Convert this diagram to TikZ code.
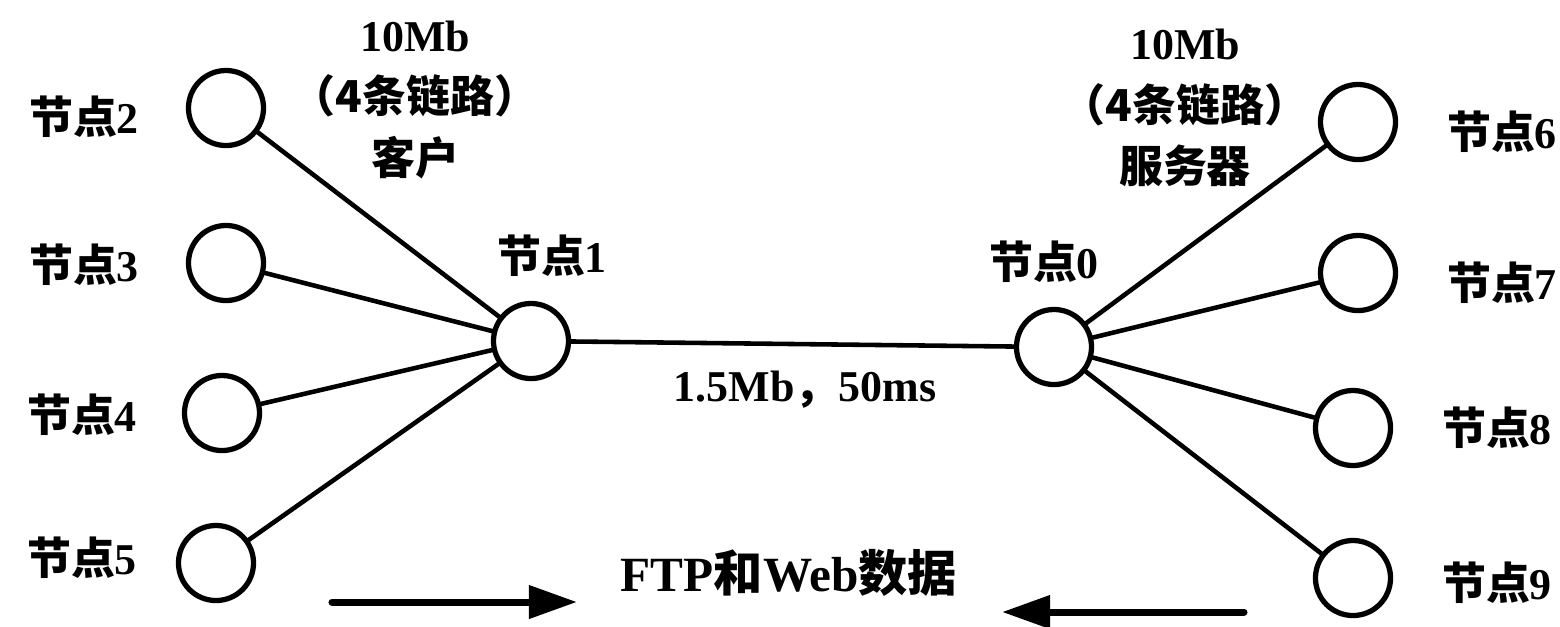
\documentclass[tikz,border=0pt]{standalone}
\usepackage{fontspec}
\setmainfont{Liberation Serif}
\newfontfamily\cjk{Noto Sans CJK SC}
\usetikzlibrary{arrows.meta}

\begin{document}
\begin{tikzpicture}[
    x={(0.01cm,0cm)},
    y={(0cm,-0.01cm)},
    line join=round,
    line cap=round,
    every node/.style={font=\bfseries\fontsize{12.5}{17.5}\selectfont, inner sep=0pt},
    nodo/.style={circle, draw, line width=1.5pt, minimum size=0.75cm},
    enlace/.style={line width=1.3pt},
    flujo/.style={-{Triangle[length=0.48cm,width=0.32cm]}, line width=2pt},
    grande/.style={font=\bfseries\fontsize{14}{17}\selectfont}
]

\useasboundingbox (0,0) rectangle (1560,626);

% clientes
\node[nodo] (n2) at (226,108) {};
\node[nodo] (n3) at (226,263) {};
\node[nodo] (n4) at (222,413) {};
\node[nodo] (n5) at (216,563) {};

% enrutadores
\node[nodo] (n1) at (531,341) {};
\node[nodo] (n0) at (1054,347) {};

% servidores
\node[nodo] (n6) at (1358,122) {};
\node[nodo] (n7) at (1358,273) {};
\node[nodo] (n8) at (1353,428) {};
\node[nodo] (n9) at (1353,578) {};

\node (e2) at (84,117) {{\cjk 节点}2};
\node (e3) at (84,265) {{\cjk 节点}3};
\node (e4) at (82,415) {{\cjk 节点}4};
\node (e5) at (82,558) {{\cjk 节点}5};
\node (e1) at (552,256) {{\cjk 节点}1};
\node (e0) at (1044,262) {{\cjk 节点}0};
\node (e6) at (1502,132) {{\cjk 节点}6};
\node (e7) at (1502,283) {{\cjk 节点}7};
\node (e8) at (1497,428) {{\cjk 节点}8};
\node (e9) at (1497,583) {{\cjk 节点}9};

\node[align=center] (cliente) at (415,100) {10Mb\\{\cjk （4条链路）}\\{\cjk 客户}};
\node[align=center] (servidor) at (1185,108) {10Mb\\{\cjk （4条链路）}\\{\cjk 服务器}};

\draw[enlace] (n2) -- (n1);
\draw[enlace] (n3) -- (n1);
\draw[enlace] (n4) -- (n1);
\draw[enlace] (n5) -- (n1);

\draw[enlace] (n1) -- (n0);

\draw[enlace] (n0) -- (n6);
\draw[enlace] (n0) -- (n7);
\draw[enlace] (n0) -- (n8);
\draw[enlace] (n0) -- (n9);

\node (troncal) at (805,390) {1.5Mb{\cjk ，}50ms};
\node[grande] (datos) at (789,573) {FTP{\cjk 和}Web{\cjk 数据}};

\coordinate (ida0) at (332,602);
\coordinate (ida1) at (577,602);
\coordinate (vuelta0) at (1244,612);
\coordinate (vuelta1) at (1002,612);

\draw[flujo] (ida0) -- (ida1);
\draw[flujo] (vuelta0) -- (vuelta1);

\end{tikzpicture}
\end{document}
